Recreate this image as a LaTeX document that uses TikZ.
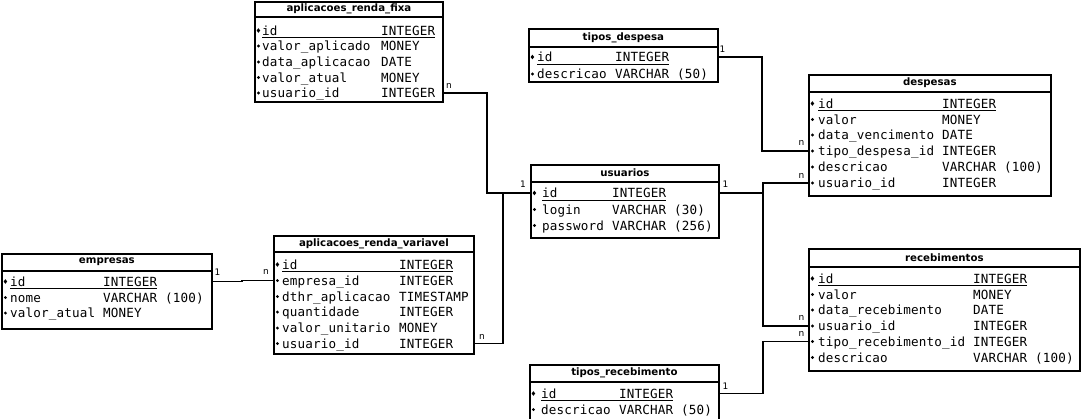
\documentclass[tikz,border=0pt]{standalone}
\usepackage{fontspec}
\newfontfamily\monof[LetterSpace=1.3]{DejaVu Sans Mono}
\newfontfamily\titlef{DejaVu Sans}
\tikzset{
  tabbox/.style={draw=black, line width=1.8pt, fill=white, inner sep=0pt, anchor=north west},
  hdrline/.style={line width=2.6pt},
  ttl/.style={font=\titlef\fontsize{10.2}{11}\selectfont\bfseries, inner sep=0pt},
  fld/.style={font=\monof\fontsize{12.6}{13}\selectfont, inner sep=0pt, text height=9.2pt, text depth=0pt, anchor=west},
  conn/.style={line width=1.8pt, line join=miter},
  card/.style={font=\titlef\fontsize{9}{10}\selectfont, inner sep=0pt}
}
\newcommand{\ertab}[8]{% name, left, top, width, height, hdr y, title, title y
  \node[tabbox, minimum width=#4pt, minimum height=#5pt] (#1) at (#2,#3) {};
  \draw[hdrline] (#1.west |- 0,#6) -- (#1.east |- 0,#6);
  \node[ttl] (#1-title) at (#1.north |- 0,#8) {#7};
}
\newcommand{\errow}[7]{% tbl, idx, y, namex, typex, field, type
  \node[fld] (#1-n#2) at (#4,#3) {#6};
  \node[fld] (#1-t#2) at (#5,#3) {#7};
  \fill (#1.west |- 0,#3) ++(4.4,0) circle (1.6);
}
\newcommand{\erkey}[7]{% tbl, idx, y, namex, typex, field, type
  \node[fld] (#1-n#2) at (#4,#3) {#6};
  \node[fld] (#1-t#2) at (#5,#3) {#7};
  \fill (#1.west |- 0,#3) ++(4.4,-2.3) -- ++(1.8,2.3) -- ++(-1.8,2.3) -- ++(-1.8,-2.3) -- cycle;
  \draw[line width=0.9pt] ([yshift=-2.3pt]#1-n#2.south west) -- ([yshift=-2.3pt]#1-t#2.south east);
}
\begin{document}
\begin{tikzpicture}[x=1pt,y=-1pt]
\useasboundingbox[fill=white] (0,0) rectangle (1081,418);

% aplicacoes_renda_fixa
\ertab{rf}{254}{1}{188}{100}{17}{aplicacoes\_renda\_fixa}{9}
\erkey{rf}{1}{30.5}{262}{381}{id}{INTEGER}
\errow{rf}{2}{46}{262}{381}{valor\_aplicado}{MONEY}
\errow{rf}{3}{62}{262}{381}{data\_aplicacao}{DATE}
\errow{rf}{4}{77.5}{262}{381}{valor\_atual}{MONEY}
\errow{rf}{5}{93}{262}{381}{usuario\_id}{INTEGER}

% tipos_despesa
\ertab{td}{528}{28}{189}{53}{47}{tipos\_despesa}{37.5}
\erkey{td}{1}{57}{537}{615}{id}{INTEGER}
\errow{td}{2}{74}{537}{615}{descricao}{VARCHAR (50)}

% despesas
\ertab{de}{808}{74}{242}{121}{92}{despesas}{83}
\erkey{de}{1}{103.5}{818}{942}{id}{INTEGER}
\errow{de}{2}{119.5}{818}{942}{valor}{MONEY}
\errow{de}{3}{135}{818}{942}{data\_vencimento}{DATE}
\errow{de}{4}{151}{818}{942}{tipo\_despesa\_id}{INTEGER}
\errow{de}{5}{167}{818}{942}{descricao}{VARCHAR (100)}
\errow{de}{6}{183}{818}{942}{usuario\_id}{INTEGER}

% usuarios
\ertab{us}{530}{164}{188}{73}{182}{usuarios}{173}
\erkey{us}{1}{193}{542}{612}{id}{INTEGER}
\errow{us}{2}{209.5}{542}{612}{login}{VARCHAR (30)}
\errow{us}{3}{225.5}{542}{612}{password}{VARCHAR (256)}

% empresas
\ertab{em}{1}{253}{210}{75}{271}{empresas}{262}
\erkey{em}{1}{281.5}{10}{103}{id}{INTEGER}
\errow{em}{2}{297.5}{10}{103}{nome}{VARCHAR (100)}
\errow{em}{3}{313}{10}{103}{valor\_atual}{MONEY}

% aplicacoes_renda_variavel
\ertab{rv}{273}{235}{200}{118}{252}{aplicacoes\_renda\_variavel}{244}
\erkey{rv}{1}{264.5}{282}{399}{id}{INTEGER}
\errow{rv}{2}{280.5}{282}{399}{empresa\_id}{INTEGER}
\errow{rv}{3}{296.5}{282}{399}{dthr\_aplicacao}{TIMESTAMP}
\errow{rv}{4}{312}{282}{399}{quantidade}{INTEGER}
\errow{rv}{5}{328}{282}{399}{valor\_unitario}{MONEY}
\errow{rv}{6}{343.5}{282}{399}{usuario\_id}{INTEGER}

% recebimentos
\ertab{re}{808}{248}{271}{122}{267}{recebimentos}{258}
\erkey{re}{1}{278.5}{818}{973}{id}{INTEGER}
\errow{re}{2}{294.5}{818}{973}{valor}{MONEY}
\errow{re}{3}{310}{818}{973}{data\_recebimento}{DATE}
\errow{re}{4}{326}{818}{973}{usuario\_id}{INTEGER}
\errow{re}{5}{341.5}{818}{973}{tipo\_recebimento\_id}{INTEGER}
\errow{re}{6}{357.5}{818}{973}{descricao}{VARCHAR (100)}

% tipos_recebimento
\ertab{tr}{529}{364}{189}{60}{382}{tipos\_recebimento}{373}
\erkey{tr}{1}{393.5}{541}{619}{id}{INTEGER}
\errow{tr}{2}{409.5}{541}{619}{descricao}{VARCHAR (50)}

% junction coordinates
\coordinate (j1) at (487,0);
\coordinate (j2) at (503,0);
\coordinate (j3) at (242,0);
\coordinate (j4) at (762,0);
\coordinate (j5) at (763,0);

% connectors
\draw[conn] (rf.east |- rf-n5.west) -| (j1 |- us-n1.west) -- (us.west |- us-n1.west);
\draw[conn] (rv.east |- rv-n6.west) -| (j2 |- us-n1.west);
\draw[conn] (em.east |- em-n1.west) -| (j3 |- rv-n2.west) -- (rv.west |- rv-n2.west);
\draw[conn] (td.east |- td-n1.west) -| (j4 |- de-n4.west) -- (de.west |- de-n4.west);
\draw[conn] (us.east |- us-n1.west) -| (j5 |- de-n6.west) -- (de.west |- de-n6.west);
\draw[conn] (j5 |- us-n1.west) |- (re.west |- re-n4.west);
\draw[conn] (tr.east |- tr-n1.west) -| (j5 |- re-n5.west) -- (re.west |- re-n5.west);

% cardinalities
\node[card] (c1) at (449,86) {n};
\node[card] (c2) at (523,184) {1};
\node[card] (c3) at (482,337) {n};
\node[card] (c4) at (217.5,272.5) {1};
\node[card] (c5) at (266,272) {n};
\node[card] (c6) at (722.5,49) {1};
\node[card] (c7) at (801.5,143) {n};
\node[card] (c8) at (801.5,176) {n};
\node[card] (c9) at (725.5,184.5) {1};
\node[card] (c10) at (801.5,318) {n};
\node[card] (c11) at (801.5,334) {n};
\node[card] (c12) at (725.5,386) {1};
\end{tikzpicture}
\end{document}
